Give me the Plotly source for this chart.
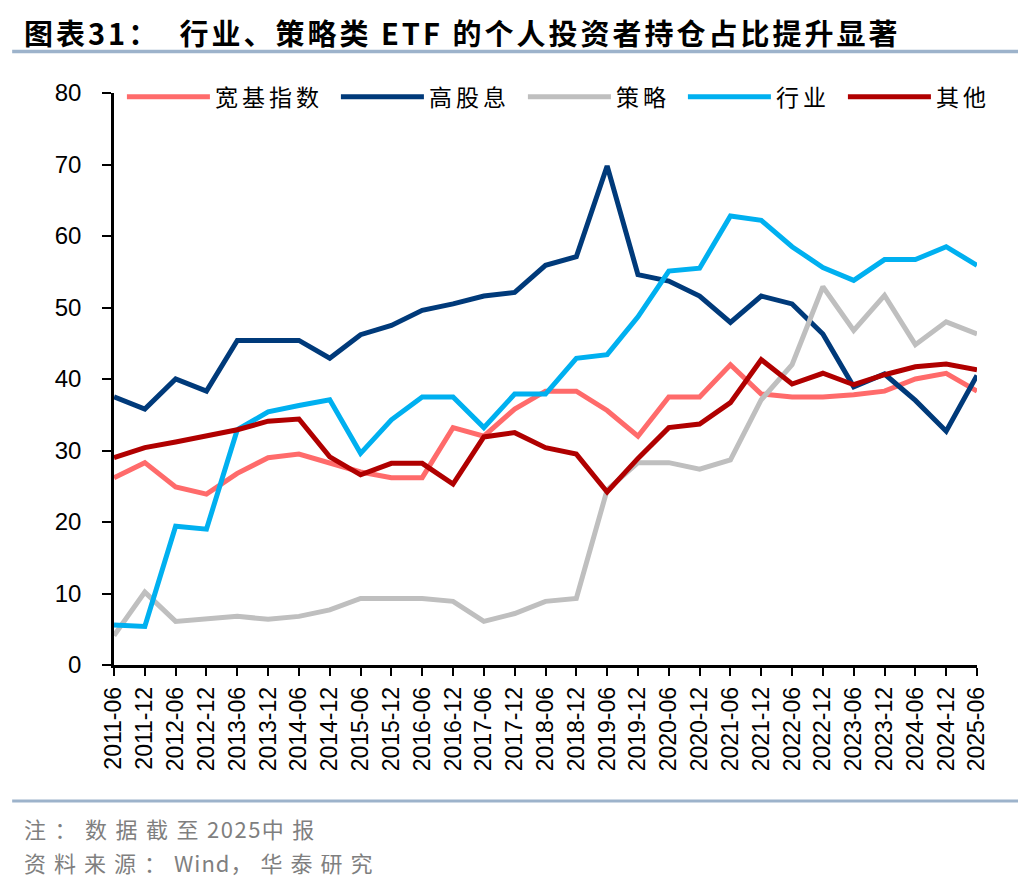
import plotly.graph_objects as go

categories = ["2011-06","2011-12","2012-06","2012-12","2013-06","2013-12","2014-06","2014-12",
              "2015-06","2015-12","2016-06","2016-12","2017-06","2017-12","2018-06","2018-12",
              "2019-06","2019-12","2020-06","2020-12","2021-06","2021-12","2022-06","2022-12",
              "2023-06","2023-12","2024-06","2024-12","2025-06"]

broad_index = [26.2, 28.3, 24.9, 23.9, 26.8, 29.0, 29.5, 28.3, 27.0, 26.2, 26.2, 33.2, 32.0, 35.8,
               38.3, 38.3, 35.6, 32.0, 37.5, 37.5, 42.0, 37.9, 37.5, 37.5, 37.8, 38.3, 40.0, 40.8, 38.3]
high_dividend = [37.5, 35.8, 40.0, 38.3, 45.4, 45.4, 45.4, 42.9, 46.2, 47.5, 49.6, 50.5, 51.6, 52.1,
                 55.9, 57.1, 69.8, 54.6, 53.7, 51.6, 47.9, 51.6, 50.5, 46.3, 38.9, 40.7, 37.0, 32.7, 40.5]
strategy = [4.1, 10.2, 6.1, 6.4, 6.8, 6.4, 6.8, 7.7, 9.3, 9.3, 9.3, 8.9, 6.1, 7.2,
            8.9, 9.3, 24.5, 28.3, 28.3, 27.4, 28.7, 37.1, 42.0, 52.9, 46.8, 51.7, 44.8, 48.0, 46.3]
industry = [5.6, 5.4, 19.4, 19.0, 32.9, 35.4, 36.3, 37.1, 29.6, 34.3, 37.5, 37.5, 33.2, 37.9,
            37.9, 42.9, 43.4, 48.7, 55.1, 55.5, 62.8, 62.2, 58.5, 55.6, 53.8, 56.7, 56.7, 58.5, 55.9]
others = [29.0, 30.4, 31.2, 32.1, 32.9, 34.1, 34.4, 29.1, 26.6, 28.2, 28.2, 25.3, 31.9, 32.5,
          30.4, 29.5, 24.2, 28.9, 33.2, 33.7, 36.7, 42.7, 39.3, 40.8, 39.2, 40.6, 41.7, 42.1, 41.3]

series_names = ["宽基指数", "高股息", "策略", "行业", "其他"]
series_values = [broad_index, high_dividend, strategy, industry, others]
series_colors = ["#FF6B6B", "#003A7A", "#BFBFBF", "#00B0F0", "#B00000"]

y_ticks = [0, 10, 20, 30, 40, 50, 60, 70, 80]


def spaced(text, px):
    return '<span style="letter-spacing:%spx">%s</span>' % (px, text)


fig = go.Figure()
for name, vals, col in zip(series_names, series_values, series_colors):
    fig.add_trace(go.Scatter(x=categories, y=vals, name=spaced(name, 4), mode="lines",
                             line=dict(color=col, width=5)))

fig.update_layout(
    width=1028, height=884,
    margin=dict(l=106, r=59, t=85, b=227, autoexpand=False),
    paper_bgcolor="white", plot_bgcolor="white",
    font=dict(family="Liberation Sans, Arial", color="black"),
    showlegend=True,
    legend=dict(orientation="h", x=-0.0001, y=1.031, xanchor="left", yanchor="top",
                font=dict(family="Noto Sans CJK SC", size=23, color="black"),
                bgcolor="rgba(255,255,255,0)", itemwidth=83, tracegroupgap=0,
                indentation=8),
    xaxis=dict(type="category", tickangle=-90, showline=True, linecolor="black", linewidth=2.5,
               ticks="outside", ticklen=8, tickwidth=2, tickcolor="black",
               tickfont=dict(size=23, family="Liberation Sans, Arial"),
               showgrid=False, range=[0, len(categories) - 1], ticklabelstandoff=2),
    yaxis=dict(range=[0, 80], tickvals=y_ticks, showline=True, linecolor="black", linewidth=2.5,
               ticks="outside", ticklen=9, tickwidth=2, tickcolor="black",
               tickfont=dict(size=24, family="Liberation Sans, Arial"),
               showgrid=False, zeroline=False, ticklabelstandoff=16),
)

fig.add_annotation(text="<b>" + spaced("图表31：  行业、策略类 ETF 的个人投资者持仓占比提升显著", 3) + "</b>",
                   xref="paper", yref="paper", x=-0.1066, y=1.1066, xanchor="left", yanchor="middle",
                   showarrow=False, font=dict(family="Noto Sans CJK SC", size=29, color="black"))
fig.add_shape(type="line", xref="paper", yref="paper", x0=-0.118, x1=1.0475, y0=1.0726, y1=1.0726,
              line=dict(color="#9DB3CB", width=3.5))
fig.add_shape(type="line", xref="paper", yref="paper", x0=-0.118, x1=1.0475, y0=-0.2378, y1=-0.2378,
              line=dict(color="#9DB3CB", width=3))
fig.add_annotation(text=spaced("注：数据截至", 8.5) + spaced("2025", 1.5) + spaced("中报", 8.5),
                   xref="paper", yref="paper",
                   x=-0.1066, y=-0.285, xanchor="left", yanchor="middle", showarrow=False,
                   font=dict(family="Noto Sans CJK SC", size=22, color="#7F7F7F"))
fig.add_annotation(text=spaced("资料来源：", 8) + spaced("Wind", 1) + spaced("，华泰研究", 8),
                   xref="paper", yref="paper",
                   x=-0.1066, y=-0.3444, xanchor="left", yanchor="middle", showarrow=False,
                   font=dict(family="Noto Sans CJK SC", size=22, color="#7F7F7F"))

fig.write_html("out.html")
